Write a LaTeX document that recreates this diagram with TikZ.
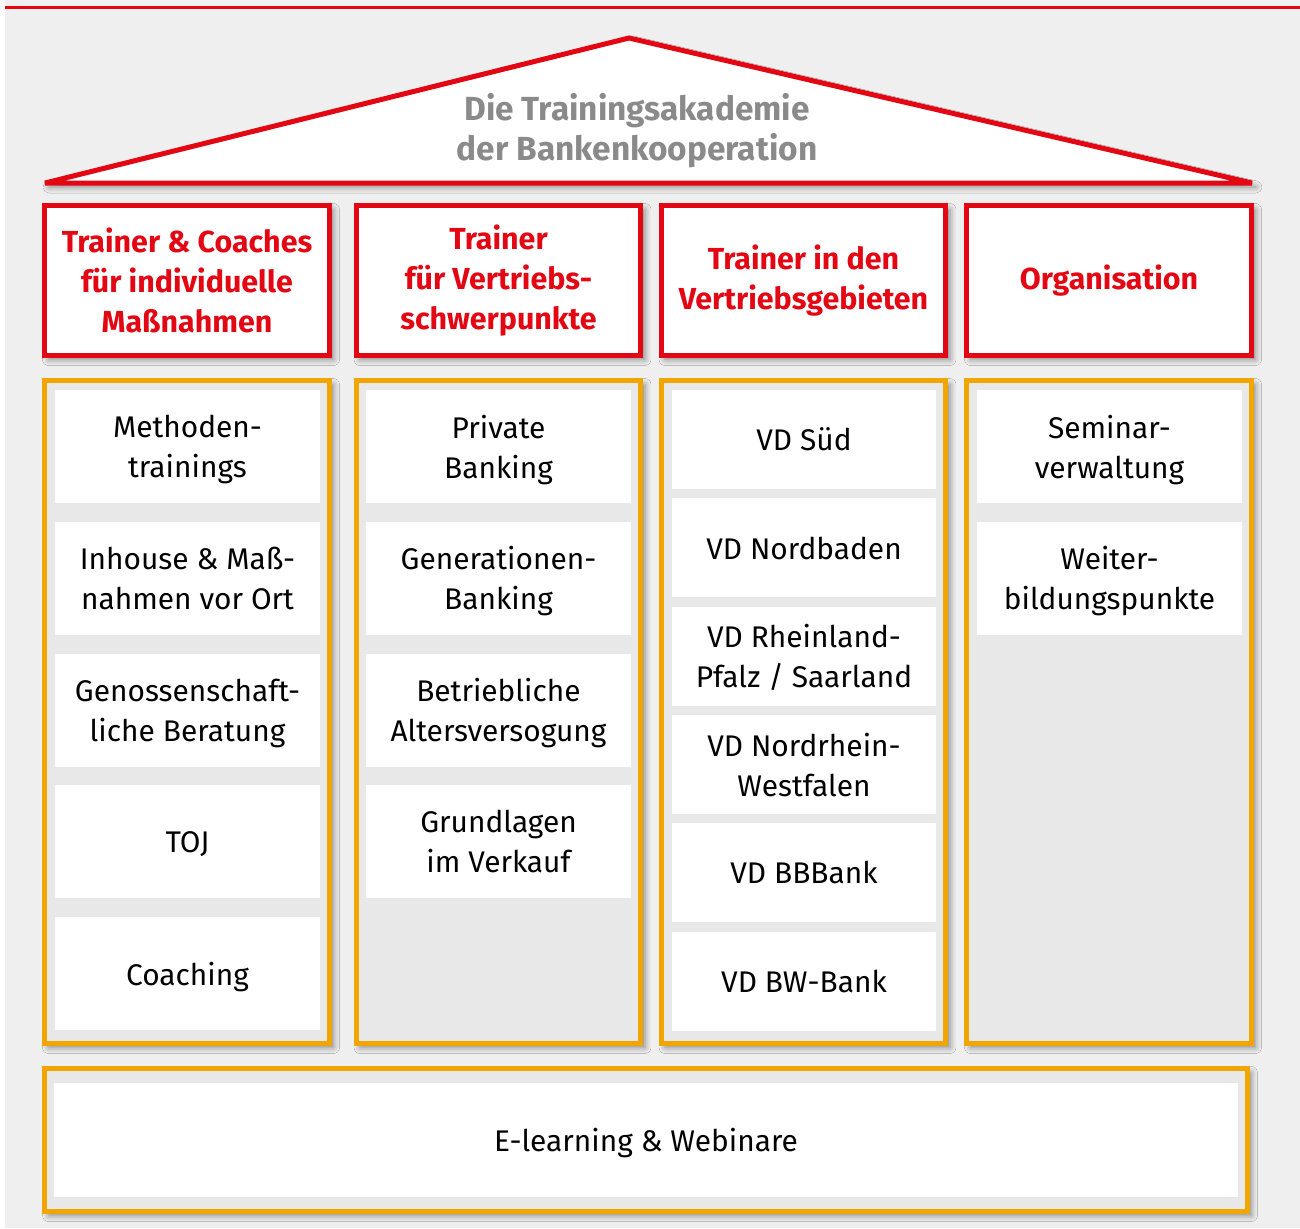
\documentclass[tikz,border=0pt]{standalone}
\usepackage{fontspec}
\setmainfont{Fira Sans}
\usepackage{tikz}
\usetikzlibrary{positioning,shadows.blur}
\definecolor{kobred}{RGB}{227,6,19}
\definecolor{kobamber}{RGB}{240,165,0}
\definecolor{kobpaper}{RGB}{239,239,239}
\definecolor{kobpillar}{RGB}{232,232,232}
\definecolor{kobtitle}{RGB}{138,138,138}

\tikzset{
  dropshade/.style={blur shadow={shadow xshift=0.08cm,shadow yshift=-0.08cm,shadow blur radius=0.12cm,shadow opacity=45}},
  headbox/.style={draw=kobred,fill=white,line width=0.1cm,minimum width=5.7cm,minimum height=3cm,
    align=center,text=kobred,font=\bfseries\fontsize{17.3}{22.76}\selectfont,dropshade},
  pillar/.style={draw=kobamber,fill=kobpillar,line width=0.1cm,minimum width=5.7cm,minimum height=13.26cm,dropshade},
  tile/.style={fill=white,minimum width=5.3cm,minimum height=2.26cm,align=center,text depth=0pt,
    font=\fontsize{17}{22.76}\selectfont},
  smalltile/.style={tile,minimum height=1.98cm},
}

\begin{document}
\begin{tikzpicture}[x=0.02cm,y=-0.02cm]
  \useasboundingbox (0,0) rectangle (1300,1228);
  \fill[kobpaper] (5,0) rectangle (1300,1228);
  \draw[kobred,line width=0.06cm] (5,7.5) -- (1300,7.5);

  % Dach
  \filldraw[fill=white,draw=kobred,line width=0.1cm,line join=miter,miter limit=4,dropshade]
    (45,183) -- (629,38) -- (1252,183) -- cycle;
  \node[text=kobtitle,font=\bfseries\fontsize{19}{22.76}\selectfont,align=center] (title) at (637,131)
    {Die Trainingsakademie\\der Bankenkooperation};

  % Saeulenkoepfe
  \node[headbox] (head1) at (187,280.5) {Trainer \& Coaches\\für individuelle\\Maßnahmen};
  \node[headbox] (head2) at (498.5,280.5) {Trainer\\für Vertriebs-\\schwerpunkte};
  \node[headbox] (head3) at (803.5,280.5) {Trainer in den\\Vertriebsgebieten};
  \node[headbox] (head4) at (1109,280.5) {Organisation};

  % Saeulen
  \foreach \x [count=\i] in {187,498.5,803.5,1109}
    \node[pillar] (pillar\i) at (\x,712) {};

  \foreach \txt [count=\i] in {{Methoden-\\trainings},{Inhouse \& Maß-\\nahmen vor Ort},
      {Genossenschaft-\\liche Beratung},{TOJ},{Coaching}}
    \node[tile] (indiv\i) at (187.5,{446.5+(\i-1)*131.75}) {\txt};

  \foreach \txt [count=\i] in {{Private\\Banking},{Generationen-\\Banking},
      {Betriebliche\\Altersversogung},{Grundlagen\\im Verkauf}}
    \node[tile] (focus\i) at (498.5,{446.5+(\i-1)*131.75}) {\txt};

  \foreach \txt [count=\i] in {{VD Süd},{VD Nordbaden},{VD Rheinland-\\Pfalz / Saarland},
      {VD Nordrhein-\\Westfalen},{VD BBBank},{VD BW-Bank}}
    \node[smalltile] (region\i) at (804,{439.5+(\i-1)*108.3}) {\txt};

  \foreach \txt [count=\i] in {{Seminar-\\verwaltung},{Weiter-\\bildungspunkte}}
    \node[tile] (orga\i) at (1109.5,{446.5+(\i-1)*131.75}) {\txt};

  % Fundament
  \node[draw=kobamber,fill=kobpillar,line width=0.1cm,minimum width=24.06cm,minimum height=2.86cm,dropshade]
    (base) at (646,1140) {};
  \node[tile,minimum width=23.68cm,minimum height=2.28cm] (webinar) at (base) {E-learning \& Webinare};
\end{tikzpicture}
\end{document}
